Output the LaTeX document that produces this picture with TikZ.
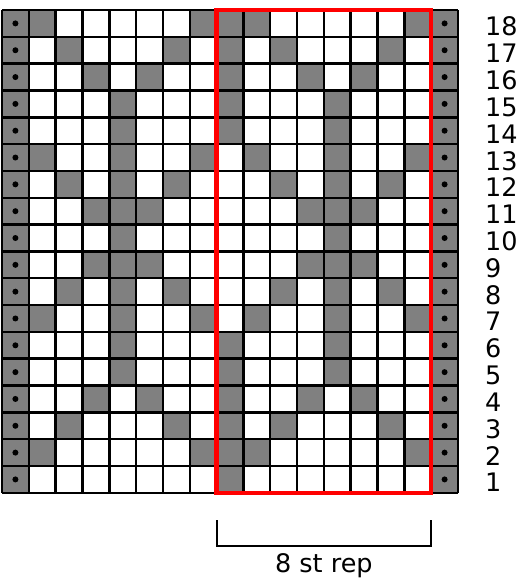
\documentclass[tikz,border=0pt]{standalone}
\usepackage{fontspec}
\setmainfont{DejaVu Sans}
\definecolor{chartgray}{HTML}{808080}
\tikzset{
  gridline/.style={line width=2.5pt, black},
  repbox/.style={draw=red, line width=4.5pt},
  bracket/.style={line width=2pt, black},
  rowlabel/.style={anchor=base west, inner sep=0pt, font=\fontsize{25.5}{28}\selectfont},
  replabel/.style={anchor=base, inner sep=0pt, font=\fontsize{25.5}{28}\selectfont},
  dotmark/.style={fill=black}
}
\begin{document}
\begin{tikzpicture}[x=1pt,y=-1pt]
\def\cs{26.824}
\useasboundingbox (0,0) rectangle (521,581);
\fill[white] (0,0) rectangle (521,581);
% gray cells of the pattern
\foreach \r/\L in {18/{1,2,8},17/{1,3,7},16/{1,4,6},15/{1,5},14/{1,5},13/{2,5,8},12/{3,5,7},11/{4,5,6},10/{5},9/{4,5,6},8/{3,5,7},7/{2,5,8},6/{1,5},5/{1,5},4/{1,4,6},3/{1,3,7},2/{1,2,8},1/{1}}{
  \pgfmathsetmacro\yt{10+(18-\r)*\cs}
  \foreach \i in \L {
    \fill[chartgray] ({2+(7+\i)*\cs},\yt) rectangle ++(\cs,\cs);
    \ifnum\i>1 \fill[chartgray] ({2+(\i-1)*\cs},\yt) rectangle ++(\cs,\cs);\fi
  }
}
% edge columns
\fill[chartgray] (2,10) rectangle ({2+\cs},{10+18*\cs});
\fill[chartgray] ({2+16*\cs},10) rectangle ({2+17*\cs},{10+18*\cs});
% grid lines
\foreach \c in {0,...,17} \draw[gridline] ({2+\c*\cs},10) -- ({2+\c*\cs},{10+18*\cs});
\foreach \k in {0,...,18} \draw[gridline] (2,{10+\k*\cs}) -- ({2+17*\cs},{10+\k*\cs});
% dots and row labels
\foreach \r in {1,...,18}{
  \pgfmathsetmacro\yc{10+(18.5-\r)*\cs}
  \fill[dotmark] ({2+0.5*\cs},\yc) circle (3pt);
  \fill[dotmark] ({2+16.5*\cs},\yc) circle (3pt);
  \node[rowlabel] (lab\r) at (485,{\yc+12.5}) {\r};
}
% repeat box
\draw[repbox] ({2+8*\cs},10) rectangle ({2+16*\cs},{10+18*\cs});
% bracket
\coordinate (bl) at ({2+8*\cs},520);
\coordinate (br) at ({2+16*\cs},520);
\draw[bracket] (bl) -- ++(0,26) -| (br);
\node[replabel] (rep) at ({2+12*\cs},572) {8 st rep};
\end{tikzpicture}
\end{document}
